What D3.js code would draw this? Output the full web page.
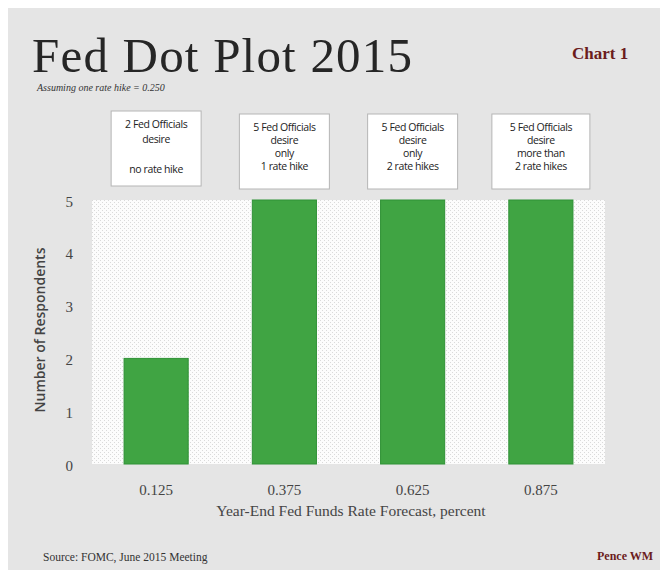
<!DOCTYPE html>
<html>
<head>
<meta charset="utf-8">
<script src="https://cdn.jsdelivr.net/npm/d3@7"></script>
<style>
  body { margin: 0; background: #fff; }
  .tick text { font-family: "Liberation Serif", serif; font-size: 15px; fill: #444; }
</style>
</head>
<body>
<div id="chart"></div>
<script>
// data
var rates = ["0.125", "0.375", "0.625", "0.875"];
var respondents = [2, 5, 5, 5];
var yTicks = [0, 1, 2, 3, 4, 5];
var notes = [
  ["2 Fed Officials", "desire", "", "no rate hike"],
  ["5 Fed Officials", "desire", "only", "1 rate hike"],
  ["5 Fed Officials", "desire", "only", "2 rate hikes"],
  ["5 Fed Officials", "desire", "more than", "2 rate hikes"]
];

var width = 662, height = 570;
var plot = {left: 92, right: 605, top: 200, bottom: 464};

var svg = d3.select("#chart").append("svg")
  .attr("width", width)
  .attr("height", height);

var defs = svg.append("defs");
var pat = defs.append("pattern")
  .attr("id", "dots")
  .attr("width", 4)
  .attr("height", 4)
  .attr("patternUnits", "userSpaceOnUse");
pat.append("rect").attr("width", 4).attr("height", 4).attr("fill", "#fcfcfc");
pat.append("rect").attr("x", 0).attr("y", 0).attr("width", 1).attr("height", 1).attr("fill", "#dadada");
pat.append("rect").attr("x", 2).attr("y", 2).attr("width", 1).attr("height", 1).attr("fill", "#dadada");

// gray panel
svg.append("rect")
  .attr("x", 8).attr("y", 8)
  .attr("width", 652).attr("height", 562)
  .attr("fill", "#e5e5e5");

// title block
svg.append("text")
  .text("Fed Dot Plot 2015")
  .attr("x", 32).attr("y", 72)
  .attr("textLength", 380)
  .style("font-family", "Liberation Serif, serif")
  .style("font-size", "49px")
  .attr("fill", "#262626");

svg.append("text")
  .text("Assuming one rate hike = 0.250")
  .attr("x", 37).attr("y", 91)
  .style("font-family", "Liberation Serif, serif")
  .style("font-style", "italic")
  .style("font-size", "10px")
  .attr("fill", "#333");

svg.append("text")
  .text("Chart 1")
  .attr("x", 572).attr("y", 59)
  .style("font-family", "Liberation Serif, serif")
  .style("font-weight", "bold")
  .style("font-size", "17px")
  .attr("fill", "#6b1c1c");

var x = d3.scaleBand()
  .domain(rates)
  .range([plot.left, plot.right])
  .paddingInner(0.5)
  .paddingOuter(0.25);

var y = d3.scaleLinear()
  .domain([0, 5])
  .range([plot.bottom, plot.top]);

// plot background
svg.append("rect")
  .attr("x", plot.left).attr("y", plot.top)
  .attr("width", plot.right - plot.left)
  .attr("height", plot.bottom - plot.top)
  .attr("fill", "url(#dots)");

svg.selectAll(".bar")
  .data(respondents)
  .enter().append("rect")
    .attr("class", "bar")
    .attr("x", function(d, i){ return x(rates[i]); })
    .attr("y", function(d){ return y(d); })
    .attr("width", x.bandwidth())
    .attr("height", function(d){ return y(0) - y(d); })
    .attr("fill", "#40a443")
    .attr("stroke", "#2f9236")
    .attr("stroke-width", 1);

var yAxis = svg.append("g")
  .attr("transform", "translate(" + plot.left + ",0)")
  .call(d3.axisLeft(y).tickValues(yTicks).tickSize(0).tickPadding(19).tickFormat(d3.format("d")));
yAxis.select(".domain").remove();
yAxis.selectAll(".tick text").attr("dy", "0.4em");

var xAxis = svg.append("g")
  .attr("transform", "translate(0," + plot.bottom + ")")
  .call(d3.axisBottom(x).tickSize(0).tickPadding(20));
xAxis.select(".domain").remove();

svg.append("text")
  .text("Year-End Fed Funds Rate Forecast, percent")
  .attr("x", 351).attr("y", 516)
  .attr("text-anchor", "middle")
  .style("font-family", "Liberation Serif, serif")
  .style("font-size", "15.5px")
  .attr("fill", "#444");

svg.append("text")
  .text("Number of Respondents")
  .attr("transform", "translate(45,330) rotate(-90)")
  .attr("text-anchor", "middle")
  .style("font-family", "Open Sans, sans-serif")
  .style("font-size", "14px")
  .style("font-weight", "600")
  .attr("fill", "#444");

// annotation boxes above the bars
var boxW = [90, 90, 90, 98];
var note = svg.selectAll(".note")
  .data(notes)
  .enter().append("g")
    .attr("class", "note")
    .attr("transform", function(d, i){
      return "translate(" + (x(rates[i]) + x.bandwidth() / 2) + ",0)";
    });

note.append("rect")
  .attr("x", function(d, i){ return -boxW[i] / 2; })
  .attr("y", function(d, i){ return i == 0 ? 111 : 114; })
  .attr("width", function(d, i){ return boxW[i]; })
  .attr("height", 75)
  .attr("fill", "#fff")
  .attr("stroke", "#b5b5b5");

note.each(function(lines, i){
  var g = d3.select(this);
  lines.forEach(function(t, j){
    g.append("text")
      .text(t)
      .attr("x", 0)
      .attr("y", (i == 0 ? 128 : 131) + j * (i == 0 ? 15 : 13))
      .attr("text-anchor", "middle")
      .style("font-family", "Open Sans, sans-serif")
      .style("font-size", "10.5px")
      .style("letter-spacing", "-0.4px")
      .attr("fill", "#222");
  });
});

svg.append("text")
  .text("Source: FOMC, June 2015 Meeting")
  .attr("x", 43).attr("y", 561)
  .style("font-family", "Liberation Serif, serif")
  .style("font-size", "11.5px")
  .attr("fill", "#333");

svg.append("text")
  .text("Pence WM")
  .attr("x", 597).attr("y", 560)
  .style("font-family", "Liberation Serif, serif")
  .style("font-weight", "bold")
  .style("font-size", "12px")
  .attr("fill", "#6b1c1c");
</script>
</body>
</html>
